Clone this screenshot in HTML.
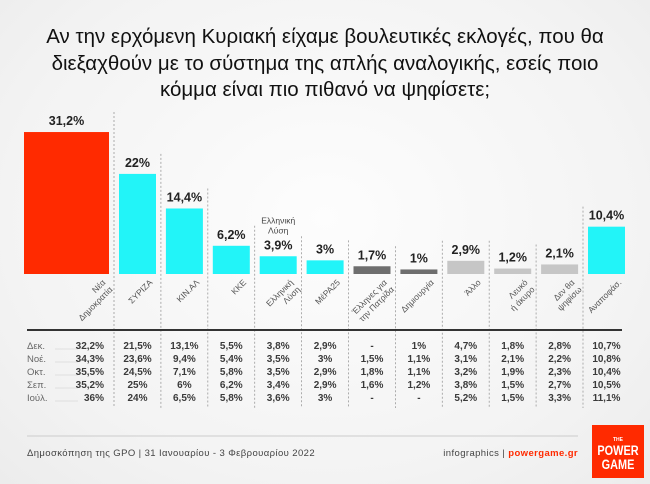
<!DOCTYPE html>
<html><head><meta charset="utf-8"><style>
html,body{margin:0;padding:0}
body{width:650px;height:484px;overflow:hidden;background:radial-gradient(ellipse at 50% 45%,#fdfdfd 0%,#f3f3f3 70%,#ececec 100%);font-family:"Liberation Sans","DejaVu Sans",sans-serif;position:relative}
.title{position:absolute;left:0;top:24px;width:650px;text-align:center;font-size:20.5px;line-height:26.5px;color:#111}
svg{position:absolute;left:0;top:0}
</style></head><body>
<div class="title">Αν την ερχόμενη Κυριακή είχαμε βουλευτικές εκλογές, που θα<br>διεξαχθούν με το σύστημα της απλής αναλογικής, εσείς ποιο<br>κόμμα είναι πιο πιθανό να ψηφίσετε;</div>
<svg id="chart" width="650" height="484"></svg>
<script>
const categories=[["Νέα","Δημοκρατία"],["ΣΥΡΙΖΑ"],["ΚΙΝ.ΑΛ"],["ΚΚΕ"],["Ελληνική","Λύση"],["ΜέΡΑ25"],["Έλληνες για","την Πατρίδα"],["Δημιουργία"],["Άλλο"],["Λευκό","ή άκυρο"],["Δεν θα","ψηφίσω"],["Αναποφάσ."]];
const values=[31.2,22,14.4,6.2,3.9,3,1.7,1,2.9,1.2,2.1,10.4];
const valueLabels=["31,2%","22%","14,4%","6,2%","3,9%","3%","1,7%","1%","2,9%","1,2%","2,1%","10,4%"];
const colorGroup=["red","cyan","cyan","cyan","cyan","cyan","dark","dark","light","light","light","cyan"];
const rowLabels=["Δεκ.","Νοέ.","Οκτ.","Σεπ.","Ιούλ."];
const rowDec=["32,2%","21,5%","13,1%","5,5%","3,8%","2,9%","-","1%","4,7%","1,8%","2,8%","10,7%"];
const rowNov=["34,3%","23,6%","9,4%","5,4%","3,5%","3%","1,5%","1,1%","3,1%","2,1%","2,2%","10,8%"];
const rowOct=["35,5%","24,5%","7,1%","5,8%","3,5%","2,9%","1,8%","1,1%","3,2%","1,9%","2,3%","10,4%"];
const rowSep=["35,2%","25%","6%","6,2%","3,4%","2,9%","1,6%","1,2%","3,8%","1,5%","2,7%","10,5%"];
const rowJul=["36%","24%","6,5%","5,8%","3,6%","3%","-","-","5,2%","1,5%","3,3%","11,1%"];
const rows=[rowDec,rowNov,rowOct,rowSep,rowJul];

const NS="http://www.w3.org/2000/svg";
const svg=document.getElementById('chart');
const colors={red:"#ff2a00",cyan:"#22f4f8",dark:"#6e6e6e",light:"#c6c6c6"};
const base=274, k=4.55, sep0=114, step=46.9;
function y(v){return base-v*k;}
function sepX(i){return sep0+step*i;}
function colL(i){return i===0?24:sepX(i-1)+5;}
function colR(i){return i===0?109:sepX(i-1)+42;}
function mk(tag,attrs){const e=document.createElementNS(NS,tag);for(const a in attrs)e.setAttribute(a,attrs[a]);svg.appendChild(e);return e;}
for(let i=0;i<values.length-1;i++){
  const top=y(Math.max(values[i],values[i+1]))-20;
  const l=mk('line',{x1:sepX(i),x2:sepX(i),y1:top,y2:408,stroke:"#9a9a9a","stroke-width":0.8,"stroke-dasharray":"2,2"});
  
  
}
values.forEach((v,i)=>{
  const r=mk('rect',{x:colL(i),y:y(v),width:colR(i)-colL(i),height:v*k,fill:colors[colorGroup[i]]});
  
  
  const cx=(colL(i)+colR(i))/2;
  const t=mk('text',{x:cx,y:y(v)-7,"text-anchor":"middle","font-size":12.5,"font-weight":"bold",fill:"#222"});
  t.textContent=valueLabels[i];
  
  
  if(i===4){
    ["Ελληνική","Λύση"].forEach((s,j)=>{const a=mk('text',{x:cx,y:y(v)-33+j*10,"text-anchor":"middle","font-size":8.5,fill:"#444"});a.textContent=s;
      
      });
  }
  const lines=categories[i];
  const ax=colR(i)-3, ay=283;
  const g=mk('text',{x:ax,y:ay,"text-anchor":"end","font-size":8.5,fill:"#555",transform:`rotate(-45 ${ax} ${ay})`});
  
  
  lines.forEach((s,j)=>{const ts=document.createElementNS(NS,'tspan');ts.setAttribute('x',ax);ts.setAttribute('dy',j===0?0:10);ts.textContent=s;g.appendChild(ts);});
});
const ax=mk('line',{x1:27,x2:622,y1:330,y2:330,stroke:"#333","stroke-width":2});


rows.forEach((row,r)=>{
  const yy=349+r*13;
  const lb=mk('text',{x:27,y:yy,"font-size":9.5,fill:"#666"});lb.textContent=rowLabels[r];
  
  
  const dl=mk('line',{x1:55,x2:78,y1:yy,y2:yy,stroke:"#ccc","stroke-width":0.6});
  
  
  row.forEach((s,i)=>{
    const t=i===0?mk('text',{x:104,y:yy,"text-anchor":"end","font-size":10,"font-weight":"600",fill:"#3a3a3a"}):mk('text',{x:(colL(i)+colR(i))/2,y:yy,"text-anchor":"middle","font-size":10,"font-weight":"600",fill:"#3a3a3a"});
    t.textContent=s;
    
    
  });
});
const fl=mk('line',{x1:27,x2:578,y1:436,y2:436,stroke:"#ccc","stroke-width":1});


const src=mk('text',{x:27,y:456,"font-size":9.5,fill:"#444","letter-spacing":"0.4"});src.textContent="Δημοσκόπηση της GPO | 31 Ιανουαρίου - 3 Φεβρουαρίου 2022";


const cr=mk('text',{x:578,y:456,"text-anchor":"end","font-size":9.5,fill:"#444","letter-spacing":"0.4"});


cr.innerHTML='infographics | <tspan fill="#ff2a00" font-weight="bold">powergame.gr</tspan>';
const lg=mk('rect',{x:592,y:425,width:52,height:53,fill:"#ff2a00"});


const th=mk('text',{x:618,y:441,"text-anchor":"middle","font-size":5,"font-weight":"bold",fill:"#fff"});th.textContent="THE";


[["POWER",455],["GAME",469]].forEach(([s,yy])=>{const t=mk('text',{x:0,y:0,"text-anchor":"middle","font-size":14,"font-weight":"bold",fill:"#fff",transform:`translate(618 ${yy}) scale(0.78 1)`});t.textContent=s;
  
  });
</script>
</body></html>
